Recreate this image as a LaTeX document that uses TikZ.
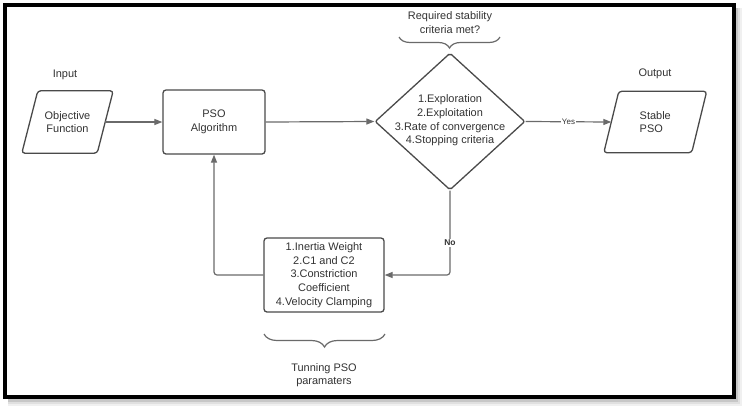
\documentclass[tikz,border=0pt]{standalone}
\usepackage{fontspec}
\setmainfont{Liberation Sans}
\usetikzlibrary{shapes.geometric,arrows.meta,decorations.pathreplacing,calc}
\definecolor{ink}{HTML}{333333}
\definecolor{edge}{HTML}{4A4A4A}
\definecolor{wire}{HTML}{6A6A6A}
\begin{document}
\begin{tikzpicture}[x=1bp,y=-1bp,
  txt/.style={font=\fontsize{11}{13.7}\selectfont, text=ink, align=center, inner sep=0pt},
  proc/.style={txt, draw=edge, line width=1.3bp, rounded corners=3bp},
  slanted/.style={draw=edge, line width=1.3bp, rounded corners=3bp},
  flow/.style={draw=wire, line width=1.2bp, -{Triangle[length=8bp,width=6bp]}},
  lab/.style={fill=white, text=ink, inner sep=1pt},
  bracket/.style={draw=wire, line width=1.2bp, decorate},
]
\useasboundingbox (0,0) rectangle (744,408);

% soft drop shadow and heavy frame
\fill[black!6]  (8,8) rectangle (742,406);
\fill[black!12] (8,8) rectangle (740,404);
\fill[black!22] (8,8) rectangle (738,402);
\draw[line width=4bp, fill=white] (5,5) rectangle (733.5,397);

% input / output data blocks
\node[txt, minimum width=75bp, minimum height=62bp] (inp) at (67.5,122) {Objective\\Function};
\draw[slanted] ($(inp.north west)+(8,0)$) -- ($(inp.north east)+(8,0)$)
  -- ($(inp.south east)+(-8,0)$) -- ($(inp.south west)+(-8,0)$) -- cycle;
\node[txt] (inlab) at (65,75) {Input};

\node[txt, align=left, minimum width=87.5bp, minimum height=61bp] (out) at (655.25,122) {Stable\\PSO};
\draw[slanted] ($(out.north west)+(7.5,0)$) -- ($(out.north east)+(7.5,0)$)
  -- ($(out.south east)+(-7.5,0)$) -- ($(out.south west)+(-7.5,0)$) -- cycle;
\node[txt] (outlab) at (655,74) {Output};

% process boxes
\node[proc, minimum width=102bp, minimum height=64bp] (pso) at (214,122) {PSO\\Algorithm};
\node[proc, minimum width=120bp, minimum height=74bp] (tune) at (324,275)
  {1.Inertia Weight\\2.C1 and C2\\3.Constriction\\Coefficient\\4.Velocity Clamping};

% decision
\node[diamond, draw=edge, line width=1.3bp, rounded corners=2bp, inner sep=0pt,
  minimum width=150bp, minimum height=137bp] (crit) at (450,121.5) {};
\node[txt] (crittxt) at (450,120.5)
  {1.Exploration\\2.Exploitation\\3.Rate of convergence\\4.Stopping criteria};

% annotations with braces
\node[txt] (question) at (450,22.5) {Required stability\\criteria met?};
\coordinate (qa) at (399,37);
\coordinate (qb) at (500,37);
\draw[bracket, decoration={brace, mirror, amplitude=11bp}] (qa) -- (qb);

\coordinate (ta) at (264,334);
\coordinate (tb) at (385,334);
\draw[bracket, decoration={brace, mirror, amplitude=13bp}] (ta) -- (tb);
\node[txt] (tunelab) at (324,375) {Tunning PSO\\paramaters};

% connectors
\draw[flow] (inp.east) -- (pso.west);
\draw[flow] (pso.east) -- (crit.west);
\draw[flow] (crit.east) -- node[lab, font=\fontsize{8}{9}\selectfont] {Yes} (out.west);
\draw[flow, rounded corners=3bp] (crit.south) |-
  node[lab, pos=0.31, font=\bfseries\fontsize{8.5}{10}\selectfont] {No} (tune.east);
\draw[flow, rounded corners=3bp] (tune.west) -| (pso.south);
\end{tikzpicture}
\end{document}
